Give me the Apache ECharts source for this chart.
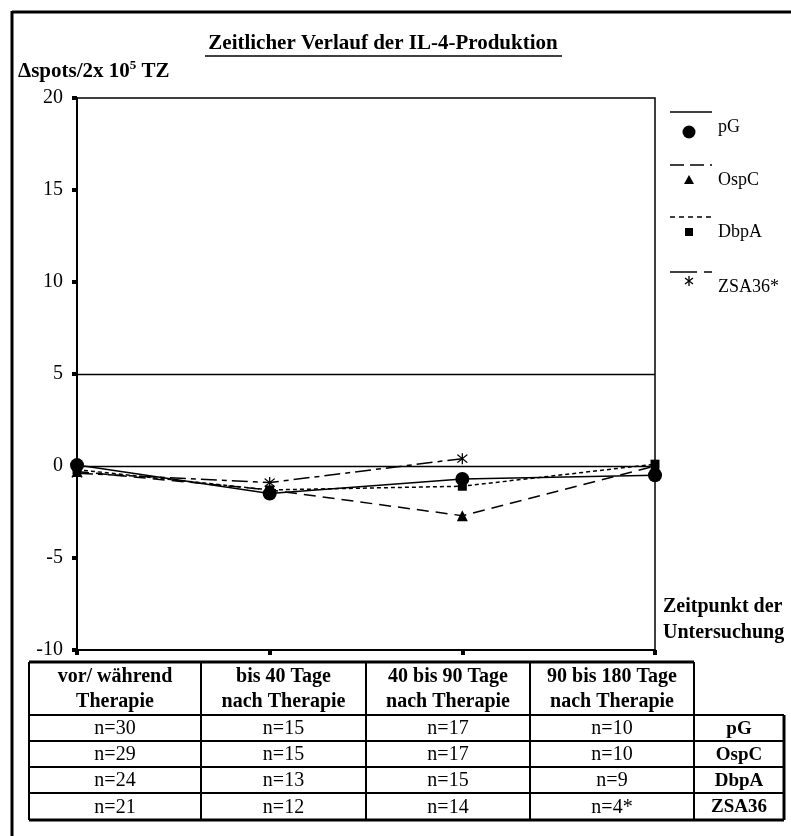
<!DOCTYPE html>
<html><head><meta charset="utf-8">
<script src="https://cdn.jsdelivr.net/npm/echarts@6/dist/echarts.min.js"></script>
<style>html,body{margin:0;padding:0;background:#fff}#c{width:791px;height:836px}</style>
</head><body><div id="c"></div>
<script>
// ---- data ----
const categories = ['vor/ während\nTherapie', 'bis 40 Tage\nnach Therapie', '40 bis 90 Tage\nnach Therapie', '90 bis 180 Tage\nnach Therapie'];
const seriesNames = ['pG', 'OspC', 'DbpA', 'ZSA36'];
const legendNames = ['pG', 'OspC', 'DbpA', 'ZSA36*'];
const pG = [0.05, -1.5, -0.7, -0.5];
const OspC = [-0.3, -1.3, -2.7, 0.0];
const DbpA = [-0.2, -1.3, -1.1, 0.1];
const ZSA36 = [-0.4, -0.9, 0.4, null];
const nPG = ['n=30', 'n=15', 'n=17', 'n=10'];
const nOspC = ['n=29', 'n=15', 'n=17', 'n=10'];
const nDbpA = ['n=24', 'n=13', 'n=15', 'n=9'];
const nZSA36 = ['n=21', 'n=12', 'n=14', 'n=4*'];
const yTicks = { min: -10, max: 20, interval: 5 };
const refLines = [5, 0];
const titleText = 'Zeitlicher Verlauf der IL-4-Produktion';

// ---- style ----
const F = '"Liberation Serif","Times New Roman",serif';
const asterisk = 'path://M9,0 L11,0 L11,20 L9,20 Z M1.5,3.5 L3,2 L18.5,16.5 L17,18 Z M17,2 L18.5,3.5 L3,18 L1.5,16.5 Z';
const styles = [
  { type: 'solid', symbol: 'circle', size: 14 },
  { type: [12, 7], symbol: 'triangle', size: 11 },
  { type: [4, 3], symbol: 'rect', size: 9 },
  { type: [16, 5, 5, 5], symbol: asterisk, size: 11 }
];
const values = [pG, OspC, DbpA, ZSA36];
const nRows = [nPG, nOspC, nDbpA, nZSA36];

const series = seriesNames.map((nm, i) => ({
  name: nm, type: 'line', data: values[i], connectNulls: false,
  symbol: styles[i].symbol, symbolSize: styles[i].size, showSymbol: true,
  itemStyle: { color: '#000' },
  lineStyle: { color: '#000', width: 1.5, type: styles[i].type },
  z: 5 - i, animation: false
}));
series[0].markLine = {
  silent: true, symbol: 'none', label: { show: false },
  lineStyle: { color: '#000', width: 1.3, type: 'solid' },
  data: refLines.map(v => ({ yAxis: v })), animation: false
};

const g = [];
// outer frame
g.push({ type: 'line', shape: { x1: 12, y1: 12, x2: 791, y2: 12 }, style: { stroke: '#000', lineWidth: 3 } });
g.push({ type: 'line', shape: { x1: 12, y1: 11, x2: 12, y2: 836 }, style: { stroke: '#000', lineWidth: 3 } });
// title + underline
g.push({ type: 'text', x: 383, y: 44, style: { text: titleText, font: 'bold 21px ' + F, fill: '#000', textAlign: 'center', textVerticalAlign: 'middle' } });
g.push({ type: 'line', shape: { x1: 205, y1: 56, x2: 562, y2: 56 }, style: { stroke: '#000', lineWidth: 1.6 } });
// y axis name
g.push({ type: 'text', x: 18, y: 72, style: { text: '{a|Δspots/2x 10}{s|5}{a| TZ}', rich: { a: { font: 'bold 21px ' + F, fill: '#000' }, s: { font: 'bold 13px ' + F, fill: '#000', verticalAlign: 'top', padding: [0, 0, 12, 0] } }, textVerticalAlign: 'middle' } });
// x axis name
g.push({ type: 'text', x: 663, y: 620, style: { text: 'Zeitpunkt der\nUntersuchung', font: 'bold 20px ' + F, lineHeight: 26, fill: '#000', textVerticalAlign: 'middle' } });
// legend
const legY = [112, 165, 217, 272];
const legDash = [null, [14, 6], [5, 4], null];
legendNames.forEach((nm, i) => {
  const y = legY[i];
  if (i === 3) {
    g.push({ type: 'line', shape: { x1: 670, y1: y, x2: 697, y2: y }, style: { stroke: '#000', lineWidth: 1.5 } });
    g.push({ type: 'line', shape: { x1: 704, y1: y, x2: 712, y2: y }, style: { stroke: '#000', lineWidth: 1.5 } });
  } else {
    g.push({ type: 'line', shape: { x1: 670, y1: y, x2: 712, y2: y }, style: { stroke: '#000', lineWidth: 1.5, lineDash: legDash[i] } });
  }
  const my = y + (i === 0 ? 20 : (i === 3 ? 9 : 15));
  if (i === 0) g.push({ type: 'circle', shape: { cx: 689, cy: my, r: 6.5 }, style: { fill: '#000' } });
  if (i === 1) g.push({ type: 'polygon', shape: { points: [[689, my - 5], [684, my + 4], [694, my + 4]] }, style: { fill: '#000' } });
  if (i === 2) g.push({ type: 'rect', shape: { x: 685, y: my - 4, width: 8, height: 8 }, style: { fill: '#000' } });
  if (i === 3) {
    g.push({ type: 'line', shape: { x1: 689, y1: my - 5, x2: 689, y2: my + 5 }, style: { stroke: '#000', lineWidth: 1.3 } });
    g.push({ type: 'line', shape: { x1: 685, y1: my - 3, x2: 693, y2: my + 3 }, style: { stroke: '#000', lineWidth: 1.3 } });
    g.push({ type: 'line', shape: { x1: 693, y1: my - 3, x2: 685, y2: my + 3 }, style: { stroke: '#000', lineWidth: 1.3 } });
  }
  g.push({ type: 'text', x: 718, y: y + 15, style: { text: nm, font: '18px ' + F, fill: '#000', textVerticalAlign: 'middle' } });
});
// table
const colX = [29, 201, 366, 530, 694, 784];
const hTop = 662, hBot = 715, rowY = [715, 741, 767, 793, 820];
const L = (x1, y1, x2, y2, w) => g.push({ type: 'line', shape: { x1, y1, x2, y2 }, style: { stroke: '#000', lineWidth: w } });
L(colX[0], hTop, colX[4], hTop, 3);
L(colX[0], hTop, colX[0], rowY[4], 2);
for (let c = 1; c <= 4; c++) L(colX[c], hTop, colX[c], rowY[4], 2);
L(colX[5], hBot, colX[5], rowY[4], 3);
L(colX[0], hBot, colX[5], hBot, 2);
for (let r = 1; r < 4; r++) L(colX[0], rowY[r], colX[5], rowY[r], 2);
L(colX[0], rowY[4], colX[5], rowY[4], 3);
categories.forEach((c, i) => {
  g.push({ type: 'text', x: (colX[i] + colX[i + 1]) / 2, y: (hTop + hBot) / 2 + 1, style: { text: c, font: 'bold 20px ' + F, lineHeight: 25, fill: '#000', textAlign: 'center', textVerticalAlign: 'middle' } });
});
nRows.forEach((row, r) => {
  const cy = (rowY[r] + rowY[r + 1]) / 2 + 1;
  row.forEach((t, i) => {
    g.push({ type: 'text', x: (colX[i] + colX[i + 1]) / 2, y: cy, style: { text: t, font: '20px ' + F, fill: '#000', textAlign: 'center', textVerticalAlign: 'middle' } });
  });
  g.push({ type: 'text', x: (colX[4] + colX[5]) / 2, y: cy, style: { text: seriesNames[r], font: 'bold 19px ' + F, fill: '#000', textAlign: 'center', textVerticalAlign: 'middle' } });
});

const chart = echarts.init(document.getElementById('c'), null, { renderer: 'canvas' });
chart.setOption({
  animation: false,
  backgroundColor: '#fff',
  grid: { left: 77, right: 136, top: 98, bottom: 186, show: true, borderColor: '#000', borderWidth: 1.5 },
  xAxis: {
    type: 'category', data: categories, boundaryGap: false,
    axisLine: { onZero: false, lineStyle: { color: '#000', width: 2 } },
    axisTick: { show: true, length: 5, lineStyle: { color: '#000', width: 4 } },
    axisLabel: { show: false }, splitLine: { show: false }
  },
  yAxis: {
    type: 'value', min: yTicks.min, max: yTicks.max, interval: yTicks.interval,
    axisLine: { show: true, onZero: false, lineStyle: { color: '#000', width: 2 } },
    axisTick: { show: true, length: 5, lineStyle: { color: '#000', width: 4 } },
    axisLabel: { color: '#000', fontFamily: F, fontSize: 20, margin: 14 },
    splitLine: { show: false }
  },
  series: series,
  graphic: g
});
</script></body></html>
